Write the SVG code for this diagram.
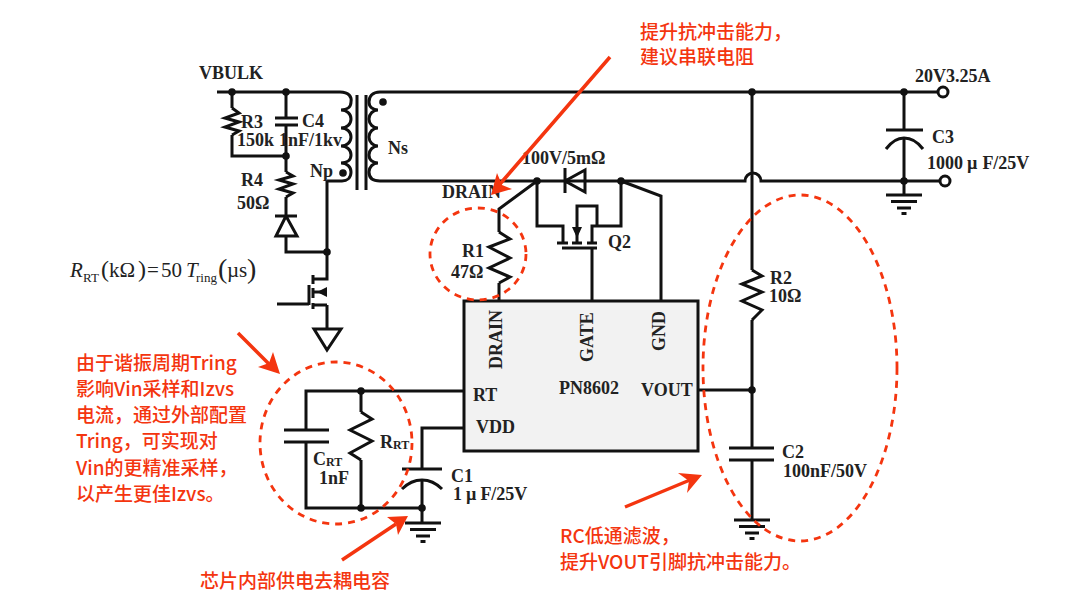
<svg xmlns="http://www.w3.org/2000/svg" width="1080" height="603" viewBox="0 0 1080 603">
<style>
.w{fill:none;stroke:#111;stroke-width:3;stroke-linejoin:miter}
.g{fill:none;stroke:#111;stroke-width:3}
.d{fill:#111;stroke:none}
.t{font-family:"Liberation Serif",serif;font-weight:bold;font-size:18px;fill:#222}
.e{font-family:"Liberation Serif",serif;font-size:21px;fill:#222}
.e.s{font-size:13px}
.e.p{font-size:24px}
.e.q{font-size:28px}
.r{font-family:"Noto Sans CJK SC","Noto Sans",sans-serif;font-weight:500;font-size:19px;fill:#f4350f}
.c{fill:none;stroke:#f4350f;stroke-width:2.800;stroke-dasharray:7 6}
.a{stroke:#f4350f;stroke-width:3.500;fill:none}
.h{fill:#f4350f;stroke:none}
</style>
<defs>
<g id="gnd" class="g"><path d="M-18 0H18M-13 6.500H13M-7 13H7M-2.500 18.500H2.500"/></g>
<circle id="dot" r="3.800" class="d"/>
</defs>
<g id="connectors">
<path class="w" d="M217 92H340"/>
<path class="w" d="M380 92H749M755 92H938"/>
<path class="w" d="M380 181H745A8 8 0 0 1 761 181H940"/>
<path class="w" d="M232 92V108M232 135V156H286M286 92V118M286 125V172M286 197V216M286 237V252H327"/>
<path class="w" d="M327 181V279H312M327 305H312M327 305V329M277 304H309"/>
<path class="w" d="M499 232V209L537 181M499 283V301"/>
<path class="w" d="M621 181L661 196V301"/>
<path class="w" d="M537 181V226H563V243M621 181V226H592V243M592 248V301"/>
<path class="w" d="M752 92V270M752 320V448M752 460V520M698 390H752"/>
<path class="w" d="M904 92V130M904 138V195"/>
<path class="w" d="M464 391H306V430M306 442V508H422M361 391V412M361 460V508"/>
<path class="w" d="M464 428H422V469M422 480V523"/>
</g>
<g id="transformer">
<path class="w" d="M340 92C349 92 352 97 351 102C351 107 347 110 341 110C347 110 351 114 351 119C351 124 347 128 341 128C347 128 351 132 351 137C351 142 347 146 341 146C347 146 351 150 351 155C351 160 347 163 341 163C347 163 351 167 351 172C351 178 347 181 342 181H327"/>
<path class="w" d="M380 92C372 92 369 97 369 102C369 107 373 110 378 110C373 110 369 114 369 119C369 124 373 128 378 128C373 128 369 132 369 137C369 142 373 146 378 146C373 146 369 150 369 155C369 160 373 163 378 163C373 163 369 167 369 172C369 178 373 181 380 181"/>
<path class="w" d="M357 95V190M366 95V190"/>
<circle cx="383" cy="102" r="3.800" class="d"/>
<circle cx="343" cy="173" r="3.800" class="d"/>
<text class="t" x="388" y="154">Ns</text>
<text class="t" x="310" y="177">Np</text>
</g>
<g id="R3"><path class="w" d="M232 108L239 113L225 118L239 122L225 127L239 131L232 135"/>
<text class="t" x="241" y="128">R3</text><text class="t" x="237" y="146">150k</text></g>
<g id="C4"><path class="w" d="M275 118H298M275 125H298"/>
<text class="t" x="302" y="127">C4</text><text class="t" x="279" y="146">1nF/1kv</text></g>
<g id="R4"><path class="w" d="M286 172L293 176L279 180L293 184L279 189L293 193L286 197"/>
<text class="t" x="241" y="186">R4</text><text class="t" x="237" y="209">50Ω</text></g>
<g id="D1"><path class="w" d="M275 216H297M286 216L276 236H297Z"/></g>
<g id="Q1">
<path class="w" d="M309 285V305M313 275V284M313 288V298M313 303V309"/>
<path class="w" d="M313 292H327"/>
<path class="d" d="M317 292L327 287V297Z"/>
<path class="w" d="M314 329H341L327 350Z"/>
</g>
<g id="R1"><path class="w" d="M499 232L510 239L489 247L510 258L489 268L510 277L499 283"/>
<text class="t" x="462" y="257">R1</text><text class="t" x="451" y="278">47Ω</text></g>
<g id="D2"><path class="w" d="M565 168V193M565 181L585 170V192Z"/>
<text class="t" x="522" y="164">100V/5mΩ</text></g>
<g id="Q2">
<path class="w" d="M557 243H568M572 243H582M587 243H597M562 248H597"/>
<path class="w" d="M577 243V206H597V226"/>
<path class="d" d="M572 227H582L577 238Z"/>
<text class="t" x="608" y="248">Q2</text>
<text class="t" x="442" y="198">DRAIN</text>
</g>
<g id="IC">
<rect x="464" y="301" width="234" height="150" fill="#f2f2f2" stroke="#111" stroke-width="3"/>
<text class="t" transform="translate(502,369) rotate(-90)">DRAIN</text>
<text class="t" transform="translate(593,362) rotate(-90)">GATE</text>
<text class="t" transform="translate(665,351) rotate(-90)">GND</text>
<text class="t" x="559" y="394">PN8602</text>
<text class="t" x="641" y="396">VOUT</text>
<text class="t" x="473" y="401">RT</text>
<text class="t" x="476" y="433">VDD</text>
</g>
<g id="R2"><path class="w" d="M752 270L762 276L742 284L762 292L742 301L762 310L752 320"/>
<text class="t" x="770" y="284">R2</text><text class="t" x="769" y="302">10Ω</text></g>
<g id="C2"><path class="w" d="M729 448H774M729 460H774"/>
<text class="t" x="782" y="458">C2</text><text class="t" x="783" y="477">100nF/50V</text>
<use href="#gnd" x="752" y="520"/></g>
<g id="C3"><path class="w" d="M886 130H923M886 149C892 141 898 138 904 138C910 138 917 141 923 149"/>
<text class="t" x="932" y="143">C3</text><text class="t" x="927" y="169">1000<tspan dx="4">µ</tspan><tspan dx="5">F/25V</tspan></text>
<use href="#gnd" x="904" y="195"/>
<circle cx="943" cy="92" r="5" fill="#fff" stroke="#111" stroke-width="3"/>
<circle cx="945" cy="181" r="5" fill="#fff" stroke="#111" stroke-width="3"/>
<text class="t" x="915" y="82">20V3.25A</text>
<text class="t" x="199" y="79">VBULK</text></g>
<g id="CRT"><path class="w" d="M284 430H329M284 442H329"/>
<text class="t" x="313" y="465">C<tspan font-size="12" dy="1">RT</tspan></text><text class="t" x="319" y="484">1nF</text></g>
<g id="RRT"><path class="w" d="M361 412L372 419L350 430L372 441L350 453L361 460"/>
<text class="t" x="380" y="448">R<tspan font-size="12" dy="1">RT</tspan></text></g>
<g id="C1"><path class="w" d="M402 469H442M402 489C408 483 414 480 422 480C430 480 436 483 442 489"/>
<text class="t" x="451" y="482">C1</text><text class="t" x="453" y="500">1<tspan dx="4">µ</tspan><tspan dx="4">F/25V</tspan></text>
<use href="#gnd" x="423" y="523"/></g>
<g id="junctions">
<use href="#dot" x="232" y="92"/><use href="#dot" x="286" y="92"/><use href="#dot" x="286" y="156"/><use href="#dot" x="327" y="252"/>
<use href="#dot" x="537" y="181"/><use href="#dot" x="621" y="181"/><use href="#dot" x="752" y="92"/><use href="#dot" x="904" y="92"/><use href="#dot" x="904" y="181"/><use href="#dot" x="752" y="390"/>
<use href="#dot" x="361" y="391"/><use href="#dot" x="361" y="508"/><use href="#dot" x="422" y="508"/>
</g>
<g id="equation">
<text class="e" x="70" y="277" font-style="italic">R</text>
<text class="e s" x="83" y="282">RT</text>
<text class="e p" x="101" y="277">(</text>
<text class="e" x="109" y="277">kΩ</text>
<text class="e p" x="138" y="277">)</text>
<text class="e" x="147" y="277">=</text>
<text class="e" x="161" y="277">50</text>
<text class="e" x="186" y="277" font-style="italic">T</text>
<text class="e s" x="196" y="282">ring</text>
<text class="e q" x="218" y="278">(</text>
<text class="e" x="227" y="277">µs</text>
<text class="e q" x="247" y="278">)</text>
</g>
<g id="annotations">
<ellipse class="c" cx="478" cy="254" rx="48" ry="46"/>
<ellipse class="c" cx="336" cy="443" rx="76" ry="81"/>
<ellipse class="c" cx="800" cy="368" rx="97" ry="173"/>
<path class="a" d="M610 57L500 184M238 333L272 367M342 560L396 524M625 507L690 480"/>
<path class="h" d="M491 195L497 173L502 185L512 189Z"/>
<path class="h" d="M280 374L273 352L269 363L258 367Z"/>
<path class="h" d="M408 516L387 517L396 524L398 535Z"/>
<path class="h" d="M702 475L678 473L689 481L687 493Z"/>
<text class="r" x="640" y="39">提升抗冲击能力，</text>
<text class="r" x="640" y="64">建议串联电阻</text>
<text class="r" x="76" y="370">由于谐振周期Tring</text>
<text class="r" x="76" y="396">影响Vin采样和Izvs</text>
<text class="r" x="76" y="422">电流，通过外部配置</text>
<text class="r" x="76" y="448">Tring，可实现对</text>
<text class="r" x="76" y="475">Vin的更精准采样，</text>
<text class="r" x="76" y="501">以产生更佳Izvs。</text>
<text class="r" x="200" y="588">芯片内部供电去耦电容</text>
<text class="r" x="560" y="543">RC低通滤波，</text>
<text class="r" x="560" y="569">提升VOUT引脚抗冲击能力。</text>
</g>
</svg>
